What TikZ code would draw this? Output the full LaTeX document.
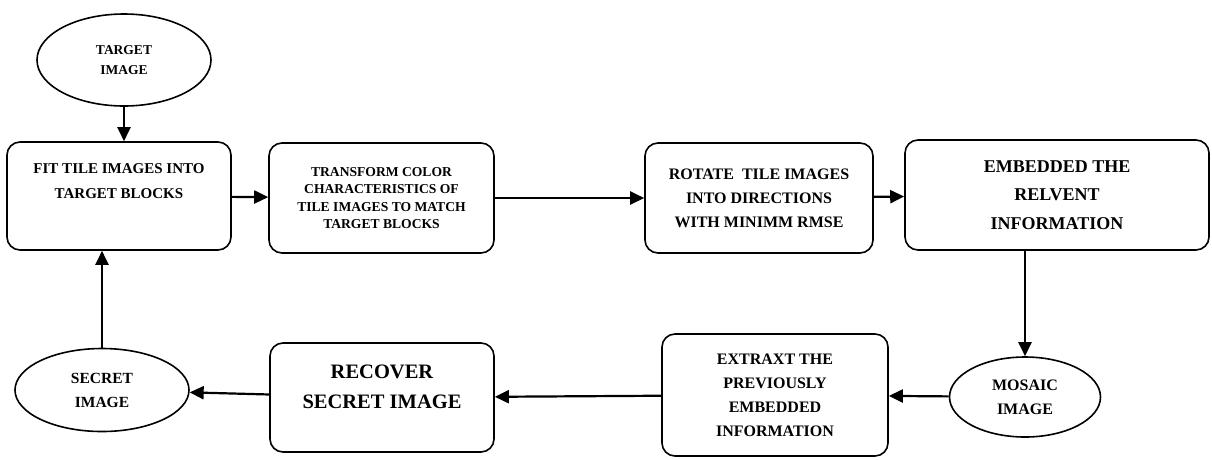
\documentclass[tikz,border=0pt]{standalone}
\usepackage{fontspec}
\setmainfont{Liberation Serif}
\usetikzlibrary{arrows.meta}
\usetikzlibrary{shapes.geometric}

\begin{document}
\begin{tikzpicture}[x=1pt,y=-1pt,->,>={Triangle[length=14pt,width=13pt]},line width=2.2pt,
	step box/.style={draw,rounded corners=13pt,line width=1.6pt,align=center,inner sep=0pt},
	image node/.style={ellipse,draw,line width=1.6pt,align=center,inner sep=0pt},
	txt/.style 2 args={font=\bfseries\fontsize{#1}{#2}\selectfont}]

	\useasboundingbox (0,0) rectangle (1212,459);

	% top row
	\node[image node,txt={13.5}{20},minimum width=174pt,minimum height=92pt] (target) at (124,60) {TARGET\\IMAGE};
	\node[step box,txt={15}{25},minimum width=224pt,minimum height=108pt] (fit) at (119,196) {FIT TILE IMAGES INTO\\TARGET BLOCKS\\[5pt]\mbox{}};
	\node[step box,txt={13.6}{17.5},minimum width=225pt,minimum height=110pt] (transform) at (381.5,198) {TRANSFORM COLOR\\CHARACTERISTICS OF\\TILE IMAGES TO MATCH\\TARGET BLOCKS};
	\node[step box,txt={16}{24},minimum width=228pt,minimum height=110pt] (rotate) at (759,198) {ROTATE\ \ TILE IMAGES\\INTO DIRECTIONS\\WITH MINIMM RMSE};
	\node[step box,txt={18}{28.5},minimum width=304pt,minimum height=110pt] (embed) at (1057,195) {EMBEDDED THE\\RELVENT\\INFORMATION};

	% bottom row
	\node[image node,txt={16}{24},minimum width=151pt,minimum height=80pt] (mosaic) at (1025,397) {MOSAIC\\IMAGE};
	\node[step box,txt={16}{24},minimum width=226pt,minimum height=122pt] (extract) at (775,395) {EXTRAXT THE\\PREVIOUSLY\\EMBEDDED\\INFORMATION};
	\node[step box,txt={20.5}{30},minimum width=224pt,minimum height=109pt] (recover) at (382,397.5) {RECOVER\\SECRET IMAGE\\[-8pt]\mbox{}};
	\node[image node,txt={15.5}{24},minimum width=174pt,minimum height=83pt] (secret) at (102,390) {SECRET\\IMAGE};

	\path
		(target.south) edge (target.south |- fit.north)
		(fit) edge (transform)
		(transform) edge (rotate)
		(rotate) edge (embed)
		(mosaic.north |- embed.south) edge (mosaic.north)
		(mosaic) edge (extract)
		(extract) edge (recover)
		(recover) edge (secret)
		(secret.north) edge (secret.north |- fit.south);

\end{tikzpicture}
\end{document}
